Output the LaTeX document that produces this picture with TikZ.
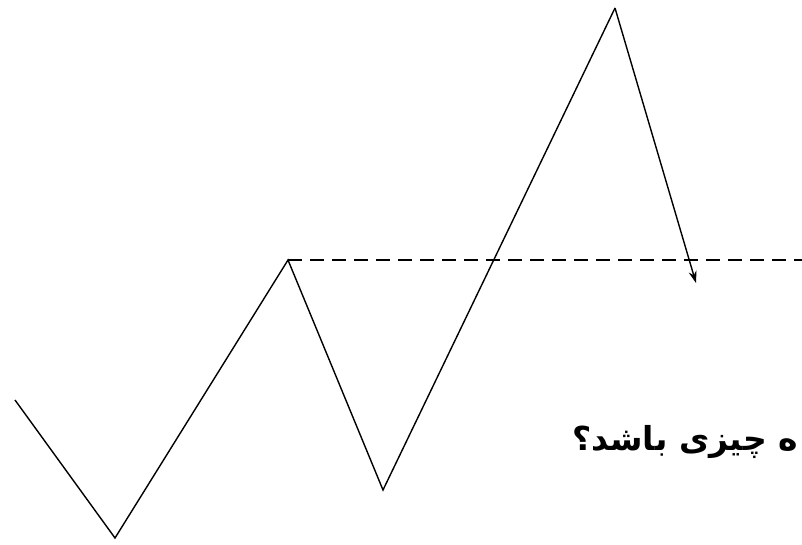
\documentclass[tikz,border=0pt]{standalone}
\usepackage{fontspec}
\newfontfamily\arabicfont[Script=Arabic]{DejaVu Sans}
\TeXXeTstate=1
\usetikzlibrary{arrows.meta}
\begin{document}
\begin{tikzpicture}[x=1pt,y=1pt,
  zig/.style={line width=1.4pt,line join=miter},
  lvl/.style={line width=1.4pt,dash pattern=on 14pt off 8pt},
  tip/.style={-{Stealth[length=12pt,width=8pt]}}]
\useasboundingbox (0,0) rectangle (802,544);
\coordinate (p0) at (15,144);
\coordinate (p1) at (115,6);
\coordinate (p2) at (288,284);
\coordinate (p3) at (383,54);
\coordinate (p4) at (615,536);
\coordinate (p5) at (696,261);
\coordinate (d1) at (802,284);
\draw[zig] (p0) -- (p1) -- (p2) -- (p3) -- (p4);
\draw[zig,tip] (p4) -- (p5);
\draw[lvl] (p2) -- (d1);
\node[anchor=west,inner sep=0pt,font=\arabicfont\bfseries\fontsize{33}{38}\selectfont] (q) at (572,102) {\beginR ه چیزی باشد؟\endR};
\end{tikzpicture}
\end{document}
